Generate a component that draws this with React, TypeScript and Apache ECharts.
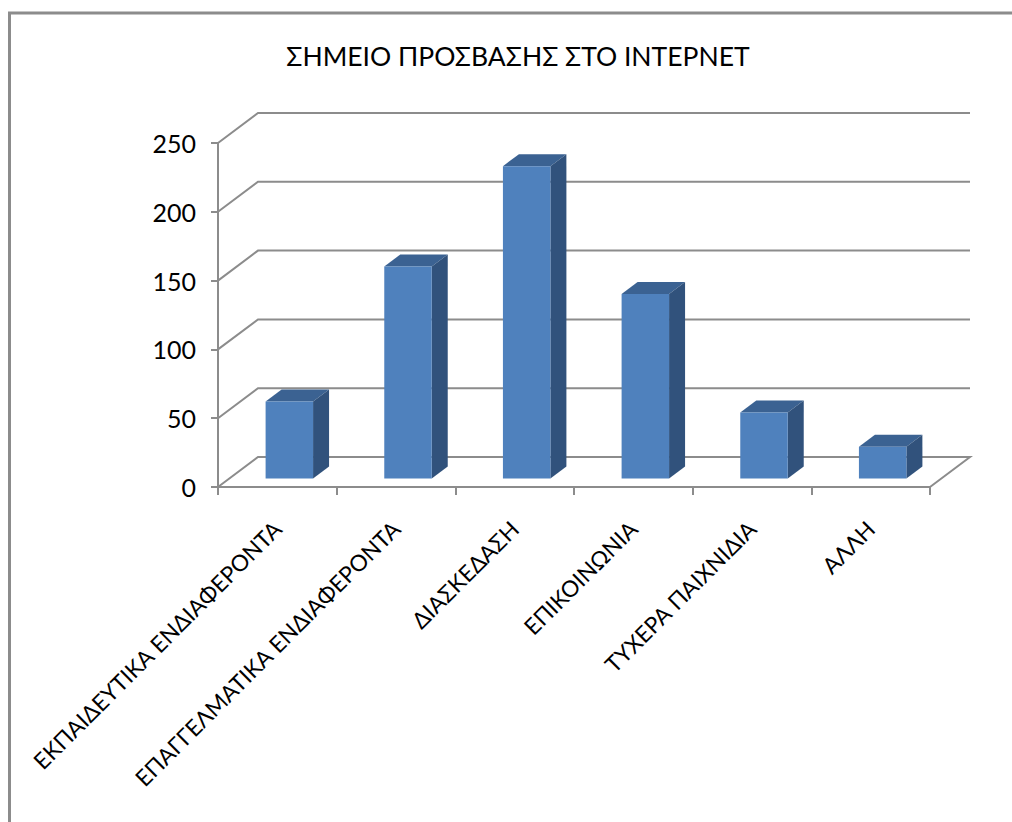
import React, { useEffect, useRef } from "react";
import * as echarts from "echarts";

const titleText = "ΣΗΜΕΙΟ ΠΡΟΣΒΑΣΗΣ ΣΤΟ ΙΝΤΕΡΝΕΤ";
const categories = [
  "ΕΚΠΑΙΔΕΥΤΙΚΑ ΕΝΔΙΑΦΕΡΟΝΤΑ",
  "ΕΠΑΓΓΕΛΜΑΤΙΚΑ ΕΝΔΙΑΦΕΡΟΝΤΑ",
  "ΔΙΑΣΚΕΔΑΣΗ",
  "ΕΠΙΚΟΙΝΩΝΙΑ",
  "ΤΥΧΕΡΑ ΠΑΙΧΝΙΔΙΑ",
  "ΆΛΛΗ",
];
const values = [56, 154, 227, 134, 48, 23];
const yTicks = [0, 50, 100, 150, 200, 250];

const FONT = "Lato, 'Open Sans', sans-serif";
const GRAY = "#8c8c8c";
const WALL_DX = 40;
const WALL_DY = -30;
const BAR_OFF_X = 12;
const BAR_OFF_Y = -8.5;
const BAR_DX = 16;
const BAR_DY = -12;

export default function App() {
  const ref = useRef<HTMLDivElement>(null);
  useEffect(() => {
    const chart = echarts.init(ref.current!, undefined, { renderer: "svg" });
    chart.setOption({
      animation: false,
      backgroundColor: "#ffffff",
      title: {
        text: titleText,
        left: 513,
        top: 37,
        textAlign: "center",
        textStyle: { fontFamily: FONT, fontSize: 26.5, fontWeight: "normal", color: "#000" },
      },
      grid: { left: 218, top: 143, width: 712, height: 344 },
      xAxis: {
        type: "category",
        data: categories,
        boundaryGap: true,
        axisLine: { lineStyle: { color: GRAY, width: 2 } },
        axisTick: { show: true, length: 8, lineStyle: { color: GRAY, width: 2 } },
        axisLabel: {
          interval: 0,
          rotate: 45,
          margin: 38,
          padding: [5, 0, 0, 0],
          fontFamily: FONT,
          fontSize: 22.6,
          color: "#000",
        },
        splitLine: { show: false },
      },
      yAxis: {
        type: "value",
        min: 0,
        max: 250,
        interval: 50,
        axisLine: { show: true, lineStyle: { color: GRAY, width: 2 } },
        axisTick: { show: true, length: 7, lineStyle: { color: GRAY, width: 2 } },
        axisLabel: { margin: 22, fontFamily: FONT, fontSize: 25, color: "#000" },
        splitLine: { show: false },
      },
      graphic: [
        {
          type: "polyline",
          shape: { points: [[9.5, 822], [9.5, 13], [1012, 13]] },
          style: { fill: "none", stroke: GRAY, lineWidth: 3 },
        },
      ],
      series: [
        {
          type: "custom",
          name: "walls",
          silent: true,
          clip: false,
          z: 1,
          coordinateSystem: "cartesian2d",
          data: yTicks.map((t) => [0, t]),
          encode: { x: 0, y: 1 },
          renderItem: (params: any, api: any) => {
            const y = api.coord([0, api.value(1)])[1];
            const cs = params.coordSys;
            const x0 = cs.x;
            const x1 = cs.x + cs.width;
            const style = { fill: "none", stroke: GRAY, lineWidth: 2 };
            const pts = [
              [x0, y],
              [x0 + WALL_DX, y + WALL_DY],
              [x1 + WALL_DX, y + WALL_DY],
            ];
            if (api.value(1) === 0) pts.push([x1, y]);
            return { type: "polyline", shape: { points: pts }, style };
          },
        },
        {
          type: "custom",
          name: "ΣΗΜΕΙΟ ΠΡΟΣΒΑΣΗΣ",
          silent: true,
          clip: false,
          z: 3,
          coordinateSystem: "cartesian2d",
          data: values.map((v, i) => [i, v]),
          encode: { x: 0, y: 1 },
          renderItem: (_params: any, api: any) => {
            const top = api.coord([api.value(0), api.value(1)]);
            const base = api.coord([api.value(0), 0]);
            const w = api.size([1, 0])[0] * 0.4;
            const l = top[0] - w / 2 + BAR_OFF_X;
            const r = top[0] + w / 2 + BAR_OFF_X;
            const t = top[1] + BAR_OFF_Y;
            const b = base[1] + BAR_OFF_Y;
            return {
              type: "group",
              children: [
                {
                  type: "polygon",
                  shape: { points: [[l, t], [r, t], [r + BAR_DX, t + BAR_DY], [l + BAR_DX, t + BAR_DY]] },
                  style: { fill: "#3b6292" },
                },
                {
                  type: "polygon",
                  shape: { points: [[r, t], [r + BAR_DX, t + BAR_DY], [r + BAR_DX, b + BAR_DY], [r, b]] },
                  style: { fill: "#31527c" },
                },
                {
                  type: "polygon",
                  shape: { points: [[l, t], [r, t], [r, b], [l, b]] },
                  style: { fill: "#4f81bd" },
                },
              ],
            };
          },
        },
      ],
    });
    return () => chart.dispose();
  }, []);
  return <div ref={ref} style={{ position: "fixed", left: 0, top: 0, width: 1012, height: 822 }} />;
}
